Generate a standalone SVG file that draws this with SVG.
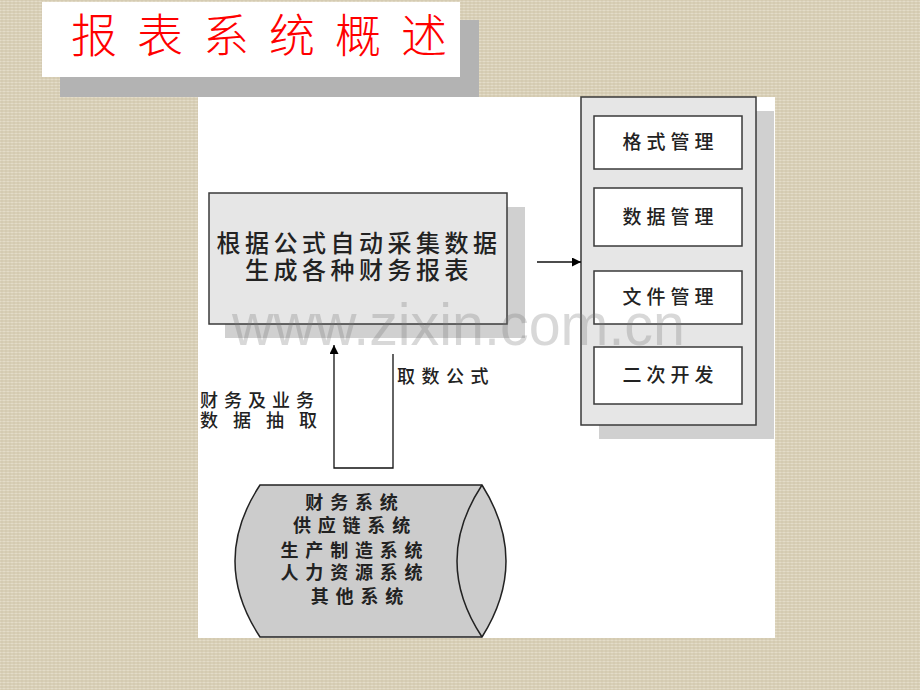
<svg xmlns="http://www.w3.org/2000/svg" width="920" height="690" viewBox="0 0 920 690">
  <defs>
    <pattern id="tex" width="8" height="6" patternUnits="userSpaceOnUse">
      <rect width="8" height="6" fill="#d8cfb6"/>
      <path d="M0,1.5H8M0,4.5H8" stroke="#e3dcc8" stroke-width="1"/>
      <path d="M2,0V6M6,0V6" stroke="#c9bea2" stroke-width="0.8" opacity="0.6"/>
    </pattern>
    <marker id="arr" viewBox="0 0 10 10" refX="10" refY="5" markerWidth="9" markerHeight="9" markerUnits="userSpaceOnUse" orient="auto">
      <path d="M0,0 L10,5 L0,10 Z" fill="#000"/>
    </marker>
  </defs>
  <style>
    .cjk { font-family: "Noto Sans CJK SC", "Noto Sans", sans-serif; fill: #222; }
    .box { fill: #e6e6e6; stroke: #3a3a3a; stroke-width: 1.5; }
    .inner { fill: #ffffff; stroke: #3a3a3a; stroke-width: 1.5; }
    .shadow { fill: #d0d0d0; }
    .conn { fill: none; stroke: #111; stroke-width: 1.3; }
  </style>

  <rect width="920" height="690" fill="url(#tex)"/>

  <!-- title -->
  <g id="title">
    <rect x="60" y="20" width="419" height="77" fill="#b3b3b3"/>
    <rect x="42" y="2" width="418" height="75" fill="#ffffff"/>
    <text x="71" y="52" font-family="Noto Sans CJK SC, sans-serif" font-weight="300" font-size="46" letter-spacing="20" fill="#ff0000">报表系统概述</text>
  </g>

  <!-- white panel -->
  <rect x="198" y="97" width="577" height="541" fill="#ffffff"/>

  <!-- main box -->
  <g id="main">
    <rect class="shadow" x="225" y="207" width="300" height="131"/>
    <rect class="box" x="209" y="193" width="298" height="131"/>
    <text class="cjk" x="359" y="252" font-size="24" font-weight="500" letter-spacing="4.5" text-anchor="middle">根据公式自动采集数据</text>
    <text class="cjk" x="359" y="279" font-size="24" font-weight="500" letter-spacing="4.5" text-anchor="middle">生成各种财务报表</text>
  </g>

  <!-- right container -->
  <g id="modules">
    <rect class="shadow" x="599" y="111" width="175" height="328"/>
    <rect class="box" x="581" y="97" width="175" height="328"/>
    <g id="m1">
      <rect class="inner" x="594" y="116" width="148" height="53"/>
      <text class="cjk" x="670.5" y="149" font-size="19" font-weight="500" letter-spacing="5" text-anchor="middle">格式管理</text>
    </g>
    <g id="m2">
      <rect class="inner" x="594" y="188" width="148" height="58"/>
      <text class="cjk" x="670.5" y="224" font-size="19" font-weight="500" letter-spacing="5" text-anchor="middle">数据管理</text>
    </g>
    <g id="m3">
      <rect class="inner" x="594" y="271" width="148" height="53"/>
      <text class="cjk" x="670.5" y="304" font-size="19" font-weight="500" letter-spacing="5" text-anchor="middle">文件管理</text>
    </g>
    <g id="m4">
      <rect class="inner" x="594" y="347" width="148" height="57"/>
      <text class="cjk" x="670.5" y="382" font-size="19" font-weight="500" letter-spacing="5" text-anchor="middle">二次开发</text>
    </g>
  </g>

  <!-- source systems cylinder -->
  <g id="sources">
    <path d="M260,485 L482,485 Q530,561 482,637 L260,637 Q210,561 260,485 Z" fill="#cccccc" stroke="#222" stroke-width="1.5"/>
    <path d="M482,485 Q432,561 482,637" fill="none" stroke="#222" stroke-width="1.5"/>
    <text class="cjk" font-size="18" font-weight="700" letter-spacing="6.8" text-anchor="middle" fill="#333">
      <tspan x="360.4" y="509">财务系统</tspan>
      <tspan x="360.4" y="532">供应链系统</tspan>
      <tspan x="360.4" y="557">生产制造系统</tspan>
      <tspan x="360.4" y="579">人力资源系统</tspan>
      <tspan x="360.4" y="603">其他系统</tspan>
    </text>
  </g>

  <!-- connectors -->
  <g id="connectors">
    <path class="conn" d="M537,262 L581,262" marker-end="url(#arr)"/>
    <path class="conn" d="M393,354 L393,468 L334,468 L334,345" marker-end="url(#arr)"/>
    <text class="cjk" x="397" y="383" font-size="18" font-weight="500" letter-spacing="6.5">取数公式</text>
    <text class="cjk" x="200" y="407" font-size="18" font-weight="500" letter-spacing="6">财务及业务</text>
    <text class="cjk" x="200" y="427" font-size="18" font-weight="500" letter-spacing="15">数据抽取</text>
  </g>

  <!-- watermark -->
  <text x="232" y="345" font-family="Liberation Sans, Arial, sans-serif" font-size="60" textLength="453" lengthAdjust="spacingAndGlyphs" fill="#777777" opacity="0.28">www.zixin.com.cn</text>
</svg>
